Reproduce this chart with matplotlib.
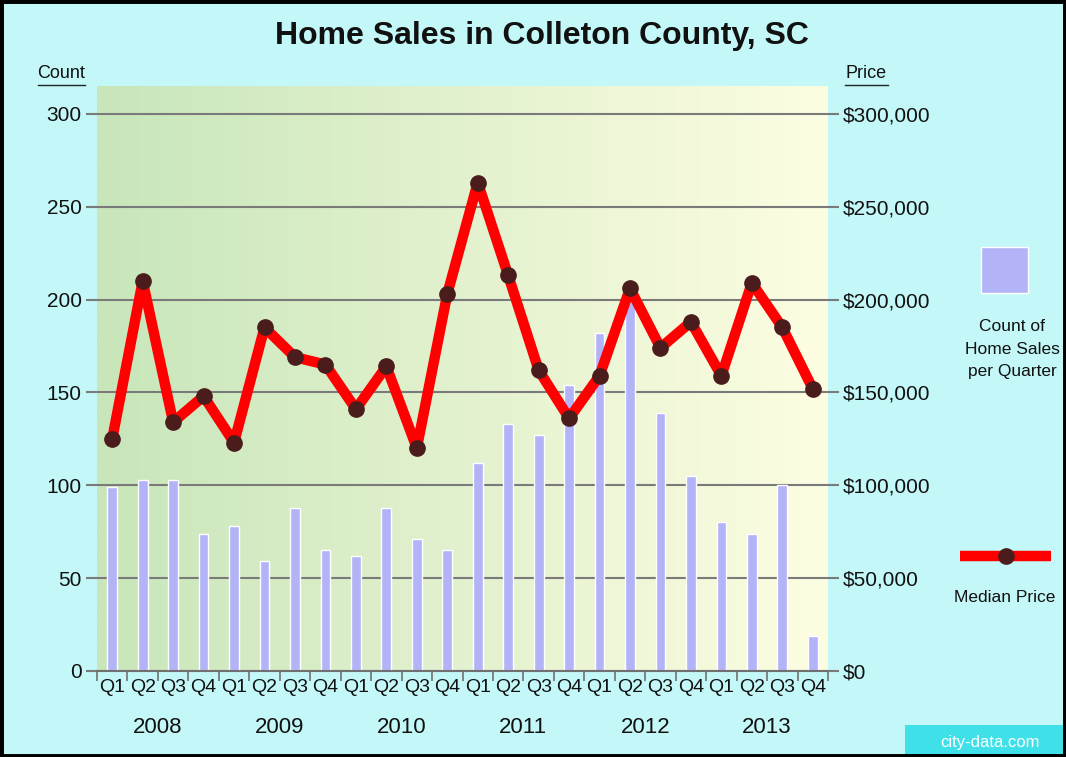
import numpy as np
import matplotlib
matplotlib.use('Agg')
import matplotlib.pyplot as plt
from matplotlib.patches import Rectangle
from matplotlib.lines import Line2D
from matplotlib.ticker import FuncFormatter

# quarterly data 2008 Q1 .. 2013 Q4
years = ['2008', '2009', '2010', '2011', '2012', '2013']
quarters = ['Q1', 'Q2', 'Q3', 'Q4'] * 6

sales_count = [99, 103, 103, 74, 78, 59, 88, 65, 62, 88, 71, 65,
               112, 133, 127, 154, 182, 210, 139, 105, 80, 74, 100, 19]

median_price = [125000, 210000, 134000, 148000, 123000, 185000, 169000, 165000,
                141000, 164000, 120000, 203000, 263000, 213000, 162000, 136000,
                159000, 206000, 174000, 188000, 159000, 209000, 185000, 152000]

plt.rcParams['font.family'] = ['Liberation Sans', 'DejaVu Sans']

fig = plt.figure(figsize=(10.66, 7.57), dpi=100, facecolor='#c4f7f7')
ax = fig.add_axes([97 / 1066, 1 - 671 / 757, (828 - 97) / 1066, (671 - 86) / 757])
x = np.arange(len(sales_count))

# green -> light yellow background of plot area
grad = np.linspace(0, 1, 256).reshape(1, -1)
c0 = np.array([200, 230, 186]) / 255
c1 = np.array([253, 253, 226]) / 255
img = c0[None, None, :] + (c1 - c0)[None, None, :] * grad[:, :, None]
ax.imshow(img, extent=[-0.5, 23.5, 0, 315], aspect='auto', zorder=0)

ax.bar(x, sales_count, width=0.32, color='#b3b3f7', edgecolor='white', linewidth=1, zorder=2)

ax.set_xlim(-0.5, 23.5)
ax.set_ylim(0, 315)
ax.set_yticks(range(0, 301, 50))
ax.yaxis.grid(True, color='#7a7a7a', linewidth=1.5)
ax.set_axisbelow(True)
for s in ['top', 'right', 'left']:
    ax.spines[s].set_visible(False)
ax.spines['bottom'].set_color('#707070')
ax.spines['bottom'].set_linewidth(1.5)

ax.set_xticks(x)
ax.set_xticklabels(quarters, fontsize=14, color='#111111')
ax.set_xticks(np.arange(-0.5, 24, 1), minor=True)
ax.tick_params(axis='x', which='major', length=0, pad=6)
ax.tick_params(axis='x', which='minor', length=7, color='#707070', width=1.2)
ax.tick_params(axis='y', length=8, color='#7a7a7a', width=1.5, labelsize=15,
               labelcolor='#111111', pad=3)

for i, yr in enumerate(years):
    ax.text(4 * i + 1.5, -0.078, yr, transform=ax.get_xaxis_transform(),
            ha='center', va='top', fontsize=16, color='#111111')

# price line on right axis
ax2 = ax.twinx()
ax2.plot(x, median_price, color='#ff0000', linewidth=7.5, zorder=3,
         solid_joinstyle='round', solid_capstyle='round')
ax2.plot(x, median_price, 'o', color='#4a1c1c', markersize=11, zorder=4)
ax2.set_ylim(0, 315000)
ax2.set_yticks(range(0, 300001, 50000))
ax2.yaxis.set_major_formatter(FuncFormatter(lambda v, p: '${:,.0f}'.format(v)))
ax2.tick_params(axis='y', length=8, color='#7a7a7a', width=1.5, labelsize=15,
                labelcolor='#111111', pad=3)
for s in ax2.spines.values():
    s.set_visible(False)

fig.text(0.508, 1 - 36 / 757, 'Home Sales in Colleton County, SC', ha='center', va='center',
         fontsize=23, fontweight='bold', color='#111111')
fig.text(61 / 1066, 1 - 74 / 757, 'Count', ha='center', va='center', fontsize=13,
         color='#111111')
fig.text(866 / 1066, 1 - 74 / 757, 'Price', ha='center', va='center', fontsize=13,
         color='#111111')
fig.add_artist(Line2D([38 / 1066, 85 / 1066], [1 - 85 / 757] * 2, color='#222222', lw=1))
fig.add_artist(Line2D([845 / 1066, 888 / 1066], [1 - 85 / 757] * 2, color='#222222', lw=1))

# legend at the right
fig.add_artist(Rectangle((981 / 1066, 1 - 293 / 757), 47 / 1066, 46 / 757,
                         facecolor='#b3b3f7', edgecolor='white', lw=1))
fig.text(1012 / 1066, 1 - 349 / 757, 'Count of\nHome Sales\nper Quarter', ha='center',
         va='center', fontsize=12.5, color='#111111', linespacing=1.6)
fig.add_artist(Line2D([960 / 1066, 1051 / 1066], [1 - 556 / 757] * 2, color='#ff0000',
                      lw=7.5, solid_capstyle='butt'))
fig.add_artist(Line2D([1006 / 1066], [1 - 556 / 757], marker='o', color='#4a1c1c',
                      markersize=11))
fig.text(1005 / 1066, 1 - 598 / 757, 'Median Price', ha='center', va='center',
         fontsize=12.5, color='#111111')

# watermark
fig.add_artist(Rectangle((905 / 1066, 0), 161 / 1066, 32 / 757, facecolor='#40e0e8',
                         edgecolor='none'))
fig.text(940 / 1066, 14 / 757, 'city-data.com', ha='left', va='center', fontsize=12,
         color='white')

# black frame
fig.add_artist(Rectangle((0, 0), 1, 1, transform=fig.transFigure, fill=False,
                         edgecolor='black', lw=5))

fig.savefig('out.png', dpi=100, facecolor=fig.get_facecolor())
